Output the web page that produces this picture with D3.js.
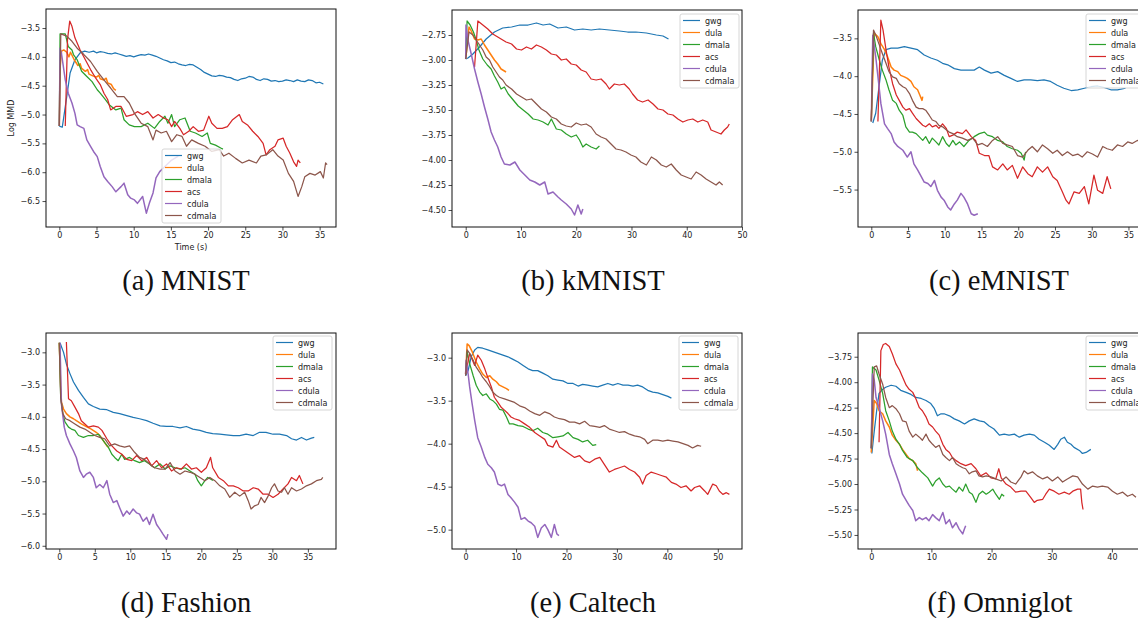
<!DOCTYPE html>
<html>
<head>
<meta charset="utf-8">
<script src="https://cdn.jsdelivr.net/npm/d3@7"></script>
<style>
body { margin: 0; background: #fff; }
</style>
</head>
<body>
<script>
var methods = ['gwg', 'dula', 'dmala', 'acs', 'cdula', 'cdmala'];
var colors = ['#1f77b4', '#ff7f0e', '#2ca02c', '#d62728', '#9467bd', '#8c564b'];
var captions = ['(a) MNIST', '(b) kMNIST', '(c) eMNIST', '(d) Fashion', '(e) Caltech', '(f) Omniglot'];

// tick labels per panel
var ticksA = { x: [0, 5, 10, 15, 20, 25, 30, 35], y: [-3.5, -4.0, -4.5, -5.0, -5.5, -6.0, -6.5] };
var ticksB = { x: [0, 10, 20, 30, 40, 50], y: [-2.75, -3.0, -3.25, -3.5, -3.75, -4.0, -4.25, -4.5] };
var ticksC = { x: [0, 5, 10, 15, 20, 25, 30, 35], y: [-3.5, -4.0, -4.5, -5.0, -5.5] };
var ticksD = { x: [0, 5, 10, 15, 20, 25, 30, 35], y: [-3.0, -3.5, -4.0, -4.5, -5.0, -5.5, -6.0] };
var ticksE = { x: [0, 10, 20, 30, 40, 50], y: [-3.0, -3.5, -4.0, -4.5, -5.0] };
var ticksF = { x: [0, 10, 20, 30, 40], y: [-3.75, -4.0, -4.25, -4.5, -4.75, -5.0, -5.25, -5.5] };

// (a) MNIST
var mnistGwg = [[0,-5.2],[0.4,-5.22],[1.0,-4.69],[1.45,-4.28],[2.1,-4.05],[2.8,-3.93],[3.4,-3.9],[4,-3.92],[4.6,-3.9],[5,-3.93],[5.5,-3.91],[6,-3.92],[6.5,-3.94],[7,-3.95],[7.5,-3.93],[8,-3.95],[8.5,-3.97],[9,-3.99],[9.5,-3.98],[10,-4.0],[10.5,-3.98],[11,-3.96],[11.5,-3.97],[12,-3.95],[12.5,-3.97],[13,-3.99],[13.5,-4.02],[14,-4.05],[14.5,-4.07],[15,-4.1],[15.5,-4.09],[16,-4.12],[16.5,-4.14],[17,-4.15],[17.5,-4.13],[18,-4.14],[18.5,-4.18],[19,-4.22],[19.5,-4.27],[20,-4.3],[20.5,-4.33],[21,-4.34],[21.5,-4.32],[22,-4.33],[22.5,-4.35],[23,-4.36],[23.5,-4.39],[24,-4.41],[24.5,-4.38],[25,-4.37],[25.5,-4.34],[26,-4.35],[26.5,-4.39],[27,-4.41],[27.5,-4.38],[28,-4.39],[28.5,-4.42],[29,-4.41],[29.5,-4.43],[30,-4.42],[30.5,-4.4],[31,-4.41],[31.5,-4.43],[32,-4.4],[32.5,-4.42],[33,-4.43],[33.5,-4.4],[34,-4.41],[34.5,-4.45],[35,-4.44],[35.5,-4.47]];
var mnistDula = [[0,-5.2],[0.1,-4.2],[0.3,-3.9],[0.6,-3.88],[1.0,-3.92],[1.3,-4.0],[1.5,-3.92],[2.0,-4.05],[2.5,-4.15],[2.8,-4.12],[3.0,-4.2],[3.5,-4.25],[3.8,-4.22],[4.0,-4.3],[4.5,-4.33],[5.0,-4.35],[5.3,-4.32],[5.5,-4.38],[6.0,-4.4],[6.3,-4.37],[6.5,-4.45],[7.0,-4.48],[7.3,-4.55],[7.6,-4.58]];
var mnistDmala = [[0,-5.2],[0.1,-3.6],[0.3,-3.6],[0.8,-3.6],[1.2,-3.82],[1.7,-3.88],[1.9,-3.96],[2.4,-4.05],[3.0,-4.25],[3.7,-4.34],[4.4,-4.43],[5.1,-4.57],[5.5,-4.63],[6.2,-4.74],[6.7,-4.83],[7.6,-4.92],[8.3,-4.89],[8.7,-5.09],[9.4,-5.18],[10.1,-5.21],[11,-5.21],[11.9,-5.15],[12.8,-5.24],[13.5,-5.12],[14.2,-5.03],[14.6,-5.15],[15.1,-5.0],[15.5,-5.21],[16.2,-5.09],[16.9,-5.06],[17.6,-5.29],[18.3,-5.32],[19.2,-5.38],[19.9,-5.32],[20.3,-5.5],[21.0,-5.53],[21.7,-5.58],[22.0,-5.6]];
var mnistAcs = [[0.8,-5.2],[1.1,-3.7],[1.4,-3.38],[1.7,-3.47],[2.1,-3.67],[2.8,-3.88],[3.5,-4.05],[4.2,-4.22],[4.9,-4.37],[5.5,-4.48],[6.0,-4.63],[6.5,-4.74],[6.9,-4.92],[7.6,-4.86],[8.3,-4.86],[9.0,-5.03],[9.9,-5.0],[10.5,-4.95],[11.2,-5.0],[11.9,-4.95],[12.6,-5.06],[13.3,-5.0],[14.0,-5.06],[14.6,-5.09],[15.1,-5.21],[15.5,-5.12],[16.2,-5.24],[16.7,-5.35],[17.4,-5.29],[18.0,-5.21],[18.7,-5.29],[19.4,-5.27],[20.1,-5.03],[20.5,-5.15],[21.2,-5.24],[21.9,-5.24],[22.6,-5.21],[23.3,-5.09],[24.2,-5.0],[24.6,-5.12],[25.3,-5.18],[26.0,-5.29],[26.7,-5.38],[27.4,-5.5],[27.8,-5.7],[28.3,-5.61],[29,-5.55],[29.4,-5.44],[30.1,-5.41],[30.5,-5.55],[31,-5.67],[31.5,-5.82],[31.9,-5.9],[32.1,-5.79],[32.4,-5.84]];
var mnistCdula = [[0,-5.2],[0.1,-3.85],[0.3,-3.95],[0.8,-4.4],[1.2,-4.63],[1.7,-4.8],[2.1,-4.98],[2.4,-5.18],[2.8,-5.21],[3.3,-5.24],[3.7,-5.44],[4.2,-5.55],[4.6,-5.64],[5.1,-5.73],[5.5,-5.9],[6.0,-6.08],[6.5,-6.16],[7.1,-6.25],[7.6,-6.34],[8.3,-6.25],[8.7,-6.19],[9.2,-6.39],[9.6,-6.45],[10.1,-6.48],[10.5,-6.54],[11.2,-6.42],[11.7,-6.71],[12.1,-6.54],[12.6,-6.36],[13.0,-6.1],[13.5,-5.99],[14.2,-5.9],[15.0,-5.8],[16.0,-5.72]];
var mnistCdmala = [[0,-5.2],[0.2,-3.6],[1.0,-3.64],[1.7,-3.73],[2.4,-3.85],[3.3,-3.96],[4.2,-4.08],[5.1,-4.25],[6.0,-4.4],[6.9,-4.54],[7.8,-4.69],[8.7,-4.69],[9.4,-4.8],[10.1,-4.98],[11,-5.15],[11.9,-5.21],[12.6,-5.44],[13.0,-5.27],[13.7,-5.32],[14.4,-5.29],[15.1,-5.47],[15.8,-5.35],[16.5,-5.38],[17.1,-5.55],[17.8,-5.44],[18.7,-5.5],[19.6,-5.55],[20.5,-5.64],[21.5,-5.61],[22.1,-5.72],[22.8,-5.67],[23.7,-5.76],[24.6,-5.84],[25.5,-5.79],[26.5,-5.84],[27.1,-5.72],[27.8,-5.7],[28.7,-5.61],[29.4,-5.72],[30.1,-5.79],[30.8,-6.02],[31.5,-6.16],[32.1,-6.42],[32.6,-6.25],[33.0,-6.08],[33.7,-6.02],[34.4,-6.05],[35.1,-5.99],[35.5,-6.1],[35.8,-5.84],[36.0,-5.87]];

// (b) kMNIST
var kmnistGwg = [[0,-2.99],[0.4,-2.98],[1.3,-2.94],[2.5,-2.87],[3.7,-2.79],[5.2,-2.72],[6.7,-2.68],[8.3,-2.67],[9.8,-2.65],[11.3,-2.65],[12.8,-2.63],[14.0,-2.65],[15.2,-2.64],[16.7,-2.68],[18.2,-2.67],[19.7,-2.7],[21.2,-2.69],[22.7,-2.7],[24.2,-2.69],[26.0,-2.7],[27.8,-2.71],[29.3,-2.72],[30.8,-2.72],[32.7,-2.73],[34.5,-2.75],[35.7,-2.76],[36.7,-2.79]];
var kmnistDula = [[0,-2.99],[0.6,-2.67],[1.0,-2.71],[1.6,-2.79],[2.2,-2.8],[2.8,-2.79],[3.4,-2.85],[4.0,-2.9],[4.6,-2.95],[5.2,-3.0],[5.8,-3.04],[6.4,-3.09],[7.0,-3.11],[7.3,-3.12]];
var kmnistDmala = [[0,-2.99],[0.25,-2.61],[0.8,-2.65],[1.4,-2.72],[1.9,-2.8],[2.4,-2.9],[3.1,-2.99],[3.9,-3.05],[4.6,-3.09],[5.2,-3.16],[5.8,-3.22],[6.4,-3.29],[7.0,-3.27],[7.7,-3.34],[8.6,-3.4],[9.5,-3.46],[10.4,-3.5],[11.3,-3.54],[12.2,-3.59],[13.1,-3.6],[14.0,-3.62],[14.9,-3.65],[15.5,-3.59],[16.4,-3.69],[17.3,-3.7],[18.2,-3.74],[19.1,-3.77],[20.0,-3.75],[20.6,-3.8],[21.2,-3.87],[21.8,-3.84],[22.7,-3.87],[23.6,-3.89],[24.2,-3.86]];
var kmnistAcs = [[1.6,-3.07],[2.2,-2.61],[3.1,-2.65],[4.0,-2.69],[4.9,-2.74],[5.8,-2.77],[6.7,-2.8],[7.3,-2.82],[8.3,-2.84],[9.2,-2.89],[10.1,-2.9],[11.0,-2.87],[11.9,-2.89],[12.8,-2.85],[13.7,-2.87],[14.6,-2.9],[15.5,-2.94],[16.4,-2.95],[17.3,-3.0],[18.2,-2.99],[19.1,-3.04],[20.0,-3.05],[20.9,-3.1],[21.8,-3.12],[22.7,-3.19],[23.6,-3.2],[24.5,-3.19],[25.4,-3.24],[26.0,-3.29],[26.9,-3.24],[27.8,-3.25],[28.7,-3.24],[29.6,-3.29],[30.2,-3.34],[31.1,-3.4],[32.0,-3.42],[33.0,-3.4],[33.9,-3.44],[34.8,-3.49],[35.7,-3.5],[36.6,-3.54],[37.5,-3.55],[38.4,-3.59],[39.3,-3.62],[40.2,-3.6],[41.1,-3.59],[42.0,-3.62],[42.9,-3.6],[43.8,-3.62],[44.4,-3.7],[45.3,-3.72],[46.2,-3.74],[46.8,-3.7],[47.4,-3.67],[47.7,-3.64]];
var kmnistCdula = [[0,-2.99],[0.05,-2.65],[0.4,-2.8],[1.0,-2.94],[1.6,-3.09],[2.2,-3.22],[2.8,-3.34],[3.4,-3.47],[4.0,-3.59],[4.6,-3.72],[5.2,-3.8],[5.8,-3.87],[6.4,-3.97],[7.0,-4.04],[8.0,-4.05],[8.9,-4.02],[9.8,-4.1],[10.7,-4.15],[11.6,-4.2],[12.5,-4.22],[13.4,-4.25],[14.3,-4.22],[14.9,-4.34],[15.8,-4.32],[16.7,-4.37],[17.3,-4.4],[18.2,-4.44],[19.1,-4.49],[19.7,-4.55],[20.3,-4.45],[20.9,-4.54],[21.2,-4.49]];
var kmnistCdmala = [[0,-2.99],[0.6,-2.72],[1.3,-2.75],[1.9,-2.8],[2.5,-2.85],[3.1,-2.9],[3.7,-2.97],[4.3,-3.0],[4.9,-3.07],[5.5,-3.12],[6.1,-3.17],[6.7,-3.2],[7.3,-3.25],[8.3,-3.29],[9.2,-3.34],[10.1,-3.37],[11.0,-3.4],[11.9,-3.39],[12.8,-3.44],[13.7,-3.49],[14.6,-3.52],[15.5,-3.57],[16.4,-3.59],[17.3,-3.64],[18.2,-3.66],[19.1,-3.67],[20.0,-3.63],[20.9,-3.65],[21.8,-3.64],[22.7,-3.67],[23.6,-3.74],[24.5,-3.77],[25.4,-3.79],[26.3,-3.84],[27.2,-3.89],[28.1,-3.9],[29.0,-3.92],[29.9,-3.95],[30.8,-3.97],[31.7,-4.02],[32.7,-4.05],[33.6,-3.97],[34.5,-4.0],[35.4,-4.05],[36.3,-4.07],[37.2,-4.04],[38.1,-4.1],[39.0,-4.15],[39.9,-4.17],[40.8,-4.19],[41.7,-4.12],[42.6,-4.15],[43.5,-4.19],[44.4,-4.22],[45.3,-4.25],[45.9,-4.22],[46.5,-4.25]];

// (c) eMNIST
var emnistGwg = [[0.2,-4.62],[0.6,-4.49],[1.1,-4.1],[1.5,-3.79],[2.0,-3.65],[2.7,-3.63],[3.6,-3.63],[4.5,-3.61],[5.4,-3.63],[6.3,-3.65],[7.2,-3.72],[8.1,-3.76],[9.0,-3.79],[9.7,-3.83],[10.4,-3.85],[11.3,-3.9],[12.2,-3.92],[13.1,-3.92],[14.0,-3.92],[14.7,-3.88],[15.4,-3.92],[16.3,-3.96],[17.2,-3.94],[18.1,-3.99],[19.0,-4.03],[19.9,-4.07],[20.8,-4.05],[21.7,-4.05],[22.6,-4.06],[23.5,-4.05],[24.4,-4.07],[25.3,-4.12],[26.2,-4.16],[27.2,-4.19],[28.1,-4.18],[29.0,-4.16],[29.9,-4.14],[30.8,-4.13],[31.7,-4.15],[32.6,-4.18],[33.5,-4.18],[34.6,-4.16]];
var emnistDula = [[0,-4.6],[0.4,-3.43],[0.9,-3.48],[1.3,-3.57],[1.8,-3.65],[2.2,-3.74],[2.7,-3.88],[3.1,-3.92],[3.6,-3.94],[4.0,-3.99],[4.5,-4.01],[4.9,-4.03],[5.4,-4.07],[5.8,-4.14],[6.3,-4.18],[6.6,-4.25],[6.9,-4.32],[7.0,-4.27]];
var emnistDmala = [[0,-4.6],[0.3,-3.43],[0.6,-3.61],[1.1,-3.79],[1.5,-3.92],[2.0,-4.05],[2.4,-4.18],[2.9,-4.32],[3.4,-4.36],[3.8,-4.45],[4.3,-4.52],[4.7,-4.67],[5.2,-4.74],[5.6,-4.74],[6.1,-4.76],[6.5,-4.8],[7.0,-4.85],[7.4,-4.8],[7.9,-4.89],[8.3,-4.82],[8.8,-4.87],[9.2,-4.91],[9.7,-4.8],[10.2,-4.89],[10.6,-4.93],[11.1,-4.85],[11.5,-4.91],[12.0,-4.87],[12.6,-4.93],[13.3,-4.85],[14.0,-4.8],[14.7,-4.76],[15.4,-4.74],[15.8,-4.78],[16.5,-4.8],[17.2,-4.85],[17.9,-4.87],[18.5,-4.93],[19.2,-4.96],[19.9,-4.98],[20.4,-5.02],[20.8,-5.11],[21.0,-5.0]];
var emnistAcs = [[0.9,-4.6],[1.3,-3.26],[1.6,-3.39],[2.0,-3.65],[2.4,-3.88],[2.9,-4.1],[3.4,-4.25],[3.8,-4.32],[4.3,-4.41],[4.7,-4.45],[5.2,-4.43],[5.6,-4.49],[6.1,-4.56],[6.5,-4.6],[7.0,-4.65],[7.4,-4.67],[7.9,-4.63],[8.3,-4.67],[8.8,-4.65],[9.2,-4.69],[9.7,-4.63],[10.2,-4.69],[10.6,-4.8],[11.1,-4.78],[11.7,-4.74],[12.4,-4.76],[12.9,-4.71],[13.6,-4.8],[14.2,-4.85],[14.7,-5.02],[15.4,-5.05],[16.0,-5.05],[16.5,-5.2],[17.2,-5.24],[17.9,-5.16],[18.5,-5.24],[19.2,-5.18],[19.9,-5.35],[20.6,-5.2],[21.3,-5.29],[21.9,-5.33],[22.6,-5.2],[23.3,-5.27],[24.0,-5.2],[24.7,-5.33],[25.3,-5.38],[26.0,-5.53],[26.5,-5.64],[26.9,-5.69],[27.6,-5.53],[28.3,-5.55],[29.0,-5.46],[29.6,-5.69],[30.3,-5.31],[30.8,-5.51],[31.5,-5.55],[32.1,-5.33],[32.6,-5.49]];
var emnistCdula = [[0,-4.6],[0.2,-3.46],[0.6,-3.74],[1.1,-4.18],[1.3,-4.36],[1.8,-4.63],[2.2,-4.69],[2.7,-4.76],[3.1,-4.87],[3.6,-4.93],[4.3,-4.98],[4.9,-5.07],[5.4,-5.0],[5.8,-5.16],[6.3,-5.24],[6.8,-5.33],[7.2,-5.4],[7.7,-5.42],[8.1,-5.46],[8.6,-5.38],[9.0,-5.51],[9.5,-5.6],[9.9,-5.64],[10.4,-5.73],[10.8,-5.77],[11.3,-5.69],[11.7,-5.64],[12.2,-5.55],[12.6,-5.6],[13.1,-5.69],[13.6,-5.82],[14.0,-5.84],[14.5,-5.82]];
var emnistCdmala = [[0,-4.59],[0.3,-3.39],[0.7,-3.48],[1.1,-3.59],[1.5,-3.7],[2.0,-3.83],[2.4,-3.94],[2.9,-4.01],[3.4,-4.03],[3.8,-4.1],[4.3,-4.14],[4.7,-4.16],[5.2,-4.23],[5.6,-4.32],[6.1,-4.41],[6.5,-4.43],[7.0,-4.43],[7.4,-4.45],[7.9,-4.52],[8.3,-4.58],[8.8,-4.6],[9.2,-4.65],[9.7,-4.67],[10.2,-4.71],[10.6,-4.74],[11.1,-4.76],[11.7,-4.8],[12.4,-4.82],[13.1,-4.85],[13.8,-4.82],[14.5,-4.91],[15.1,-4.89],[15.8,-4.93],[16.5,-4.85],[17.2,-4.8],[17.9,-4.89],[18.5,-4.91],[19.2,-4.93],[19.9,-5.05],[20.6,-5.07],[21.3,-4.98],[21.9,-4.93],[22.6,-5.0],[23.3,-4.91],[24.0,-4.96],[24.7,-5.02],[25.3,-4.98],[26.0,-5.05],[26.7,-5.0],[27.4,-5.05],[28.1,-5.03],[28.7,-5.07],[29.4,-5.0],[30.1,-5.03],[30.8,-5.07],[31.5,-4.93],[32.1,-4.96],[32.8,-4.98],[33.5,-4.91],[34.2,-4.93],[34.9,-4.87],[35.5,-4.89],[36.2,-4.85],[36.6,-4.86]];

// (d) Fashion
var fashionGwg = [[0.1,-2.85],[0.6,-3.0],[1.0,-3.18],[1.5,-3.33],[2.0,-3.46],[2.7,-3.59],[3.4,-3.7],[4.1,-3.8],[4.8,-3.84],[5.7,-3.88],[6.7,-3.89],[7.6,-3.93],[8.5,-3.95],[9.5,-3.98],[10.4,-4.01],[11.3,-4.03],[12.3,-4.06],[13.2,-4.1],[14.2,-4.14],[15.1,-4.15],[16.0,-4.15],[17.0,-4.17],[17.9,-4.15],[18.8,-4.19],[19.8,-4.21],[20.7,-4.24],[21.6,-4.26],[22.6,-4.27],[23.5,-4.28],[24.5,-4.29],[25.4,-4.29],[26.3,-4.27],[27.3,-4.29],[28.2,-4.24],[29.1,-4.24],[30.1,-4.27],[31.0,-4.27],[32.0,-4.29],[32.7,-4.34],[33.4,-4.36],[34.1,-4.32],[34.8,-4.36],[35.5,-4.33],[35.9,-4.32]];
var fashionDula = [[0,-2.85],[0.2,-3.54],[0.3,-3.77],[0.6,-3.88],[1.0,-3.95],[1.5,-4.0],[2.0,-4.03],[2.4,-4.06],[3.1,-4.11],[3.8,-4.15],[4.5,-4.19],[5.2,-4.24],[5.7,-4.29],[6.2,-4.37],[6.7,-4.45],[6.9,-4.47]];
var fashionDmala = [[0,-2.85],[0.2,-3.7],[0.5,-3.95],[0.8,-4.08],[1.3,-4.16],[1.7,-4.19],[2.2,-4.21],[2.7,-4.29],[3.4,-4.32],[4.1,-4.29],[4.8,-4.29],[5.5,-4.27],[6.0,-4.34],[6.4,-4.4],[6.9,-4.47],[7.4,-4.58],[7.8,-4.63],[8.3,-4.68],[8.8,-4.58],[9.2,-4.66],[9.9,-4.63],[10.6,-4.68],[11.3,-4.71],[12.0,-4.68],[12.7,-4.73],[13.4,-4.79],[14.2,-4.73],[14.9,-4.81],[15.6,-4.76],[16.3,-4.79],[17.0,-4.81],[17.7,-4.79],[18.4,-4.84],[19.1,-4.89],[19.5,-4.99],[20.0,-5.07],[20.5,-4.99],[20.9,-4.94],[21.4,-4.97],[21.6,-4.99]];
var fashionAcs = [[1.0,-2.84],[1.3,-3.72],[1.7,-3.75],[2.2,-3.85],[2.7,-3.95],[3.1,-4.06],[3.6,-4.11],[4.1,-4.16],[4.8,-4.14],[5.5,-4.16],[6.0,-4.21],[6.7,-4.34],[7.4,-4.45],[8.1,-4.53],[8.8,-4.58],[9.5,-4.66],[10.2,-4.68],[10.9,-4.6],[11.6,-4.68],[12.3,-4.63],[13.0,-4.76],[13.7,-4.68],[14.4,-4.79],[15.1,-4.73],[15.8,-4.84],[16.5,-4.79],[17.2,-4.81],[17.9,-4.73],[18.6,-4.81],[19.3,-4.79],[20.0,-4.86],[20.7,-4.79],[21.3,-4.63],[21.6,-4.79],[22.4,-4.94],[23.1,-4.99],[23.8,-5.07],[24.5,-5.07],[25.2,-5.1],[25.9,-5.15],[26.6,-5.15],[27.3,-5.1],[28.0,-5.12],[28.7,-5.2],[29.4,-5.2],[30.1,-5.25],[30.8,-5.2],[31.5,-5.12],[32.2,-5.04],[32.7,-4.94],[33.4,-4.99],[33.8,-4.91],[34.3,-5.04]];
var fashionCdula = [[0.1,-2.85],[0.3,-3.8],[0.7,-4.16],[1.0,-4.29],[1.5,-4.42],[2.0,-4.53],[2.4,-4.63],[2.9,-4.84],[3.4,-4.94],[3.8,-4.89],[4.3,-4.86],[4.8,-4.94],[5.2,-5.1],[5.7,-5.05],[6.2,-5.1],[6.7,-4.99],[7.1,-5.2],[7.6,-5.33],[8.1,-5.3],[8.5,-5.41],[9.0,-5.54],[9.5,-5.46],[9.9,-5.51],[10.4,-5.43],[10.9,-5.49],[11.3,-5.51],[11.8,-5.62],[12.3,-5.56],[12.7,-5.67],[13.2,-5.51],[13.7,-5.67],[14.2,-5.75],[14.6,-5.82],[15.1,-5.9],[15.3,-5.82]];
var fashionCdmala = [[0,-2.85],[0.2,-3.7],[0.5,-3.95],[0.9,-4.03],[1.5,-4.06],[2.2,-4.11],[2.9,-4.16],[3.6,-4.19],[4.3,-4.24],[5.0,-4.29],[5.7,-4.32],[6.4,-4.34],[7.1,-4.45],[7.8,-4.42],[8.5,-4.45],[9.2,-4.47],[9.9,-4.45],[10.6,-4.55],[11.3,-4.63],[12.0,-4.66],[12.7,-4.73],[13.4,-4.79],[14.2,-4.81],[14.9,-4.81],[15.6,-4.71],[16.3,-4.84],[17.0,-4.89],[17.7,-4.84],[18.4,-4.86],[19.1,-4.89],[19.8,-4.94],[20.5,-4.99],[21.2,-4.94],[21.9,-4.99],[22.6,-5.07],[23.3,-5.12],[24.0,-5.25],[24.7,-5.17],[25.4,-5.23],[26.1,-5.17],[26.6,-5.3],[27.0,-5.43],[27.5,-5.38],[28.0,-5.36],[28.4,-5.25],[28.9,-5.33],[29.4,-5.23],[29.9,-5.1],[30.3,-5.04],[30.8,-5.15],[31.3,-5.17],[31.7,-5.1],[32.2,-5.2],[32.7,-5.1],[33.4,-5.15],[34.1,-5.12],[34.8,-5.07],[35.5,-5.04],[36.2,-4.99],[36.9,-4.97],[37.1,-4.94]];

// (e) Caltech
var caltechGwg = [[0,-3.21],[0.5,-3.15],[1.1,-2.99],[1.8,-2.91],[2.4,-2.88],[3.4,-2.89],[4.4,-2.91],[5.4,-2.93],[6.4,-2.95],[7.4,-2.97],[8.4,-2.99],[9.4,-3.02],[10.4,-3.05],[11.4,-3.09],[12.4,-3.13],[13.3,-3.15],[14.3,-3.15],[15.3,-3.18],[16.3,-3.21],[17.3,-3.25],[18.3,-3.26],[19.3,-3.27],[20.3,-3.3],[21.3,-3.3],[22.3,-3.33],[23.2,-3.31],[24.2,-3.32],[25.2,-3.33],[26.2,-3.34],[27.2,-3.32],[28.2,-3.3],[29.2,-3.32],[30.2,-3.3],[31.2,-3.32],[32.2,-3.32],[33.2,-3.33],[34.1,-3.32],[35.1,-3.34],[36.1,-3.38],[37.1,-3.4],[38.1,-3.41],[39.1,-3.43],[40.1,-3.45],[40.8,-3.47]];
var caltechDula = [[0,-3.19],[0.3,-2.84],[0.7,-2.86],[1.3,-2.93],[2.1,-3.05],[2.8,-3.13],[3.4,-3.19],[4.1,-3.23],[4.8,-3.21],[5.4,-3.25],[6.1,-3.28],[6.7,-3.32],[7.4,-3.34],[8.1,-3.36],[8.6,-3.38]];
var caltechDmala = [[0,-3.19],[0.3,-2.93],[0.8,-3.07],[1.5,-3.21],[2.1,-3.32],[2.8,-3.4],[3.4,-3.44],[4.1,-3.42],[4.8,-3.48],[5.4,-3.5],[6.1,-3.54],[6.7,-3.6],[7.4,-3.61],[8.1,-3.69],[8.7,-3.77],[9.4,-3.77],[10.4,-3.79],[11.4,-3.8],[12.4,-3.83],[13.3,-3.85],[14.3,-3.82],[15.3,-3.87],[16.3,-3.89],[17.3,-3.93],[18.3,-3.92],[19.3,-3.91],[20.3,-3.87],[21.3,-3.93],[22.3,-3.95],[23.2,-3.98],[24.2,-3.96],[25.2,-4.02],[25.9,-4.01]];
var caltechAcs = [[0,-3.19],[0.8,-2.95],[1.8,-3.09],[2.4,-2.97],[3.1,-3.03],[3.8,-3.13],[4.4,-3.23],[5.1,-3.34],[5.7,-3.46],[6.4,-3.52],[7.1,-3.58],[7.7,-3.61],[8.4,-3.65],[9.0,-3.69],[9.7,-3.71],[10.7,-3.73],[11.7,-3.77],[12.7,-3.81],[13.7,-3.87],[14.7,-3.91],[15.7,-3.95],[16.3,-4.02],[17.3,-4.04],[18.0,-3.96],[18.6,-4.04],[19.6,-4.08],[20.6,-4.12],[21.6,-4.16],[22.6,-4.14],[23.6,-4.2],[24.6,-4.22],[25.6,-4.18],[26.6,-4.16],[27.5,-4.24],[28.5,-4.33],[29.5,-4.3],[30.5,-4.28],[31.5,-4.26],[32.5,-4.3],[33.5,-4.33],[34.5,-4.39],[35.1,-4.47],[35.8,-4.37],[36.8,-4.33],[37.8,-4.35],[38.8,-4.37],[39.8,-4.39],[40.8,-4.45],[41.7,-4.47],[42.7,-4.51],[43.7,-4.49],[44.7,-4.55],[45.4,-4.51],[46.4,-4.49],[47.4,-4.55],[48.0,-4.59],[49.0,-4.47],[49.7,-4.49],[50.3,-4.55],[51.0,-4.59],[51.7,-4.57],[52.3,-4.59]];
var caltechCdula = [[0,-3.19],[0.1,-3.03],[0.5,-3.19],[0.8,-3.34],[1.3,-3.54],[1.8,-3.73],[2.4,-3.93],[3.1,-4.04],[3.8,-4.16],[4.4,-4.24],[5.1,-4.28],[5.7,-4.33],[6.4,-4.47],[7.1,-4.49],[7.7,-4.47],[8.4,-4.59],[9.0,-4.63],[9.7,-4.68],[10.4,-4.74],[11.0,-4.88],[11.7,-4.86],[12.4,-4.9],[13.0,-4.92],[13.7,-4.96],[14.3,-5.09],[15.0,-4.98],[15.7,-4.94],[16.3,-5.0],[17.0,-5.09],[17.6,-4.94],[18.1,-5.05],[18.5,-5.07]];
var caltechCdmala = [[0,-3.21],[0.3,-2.91],[0.8,-2.95],[1.5,-3.03],[2.1,-3.11],[2.8,-3.17],[3.4,-3.23],[4.1,-3.28],[4.8,-3.34],[5.4,-3.4],[6.1,-3.44],[6.7,-3.46],[7.7,-3.48],[8.7,-3.5],[9.7,-3.52],[10.7,-3.56],[11.7,-3.58],[12.7,-3.62],[13.7,-3.65],[14.7,-3.67],[15.7,-3.63],[16.6,-3.65],[17.6,-3.69],[18.6,-3.71],[19.6,-3.72],[20.6,-3.75],[21.6,-3.75],[22.6,-3.77],[23.6,-3.74],[24.6,-3.79],[25.6,-3.8],[26.6,-3.81],[27.5,-3.79],[28.5,-3.83],[29.5,-3.85],[30.5,-3.87],[31.5,-3.86],[32.5,-3.89],[33.5,-3.91],[34.5,-3.92],[35.5,-3.95],[36.1,-4.0],[37.1,-3.96],[38.1,-3.96],[39.1,-3.97],[40.1,-3.96],[41.1,-3.97],[42.1,-3.98],[43.1,-4.0],[44.1,-4.02],[45.0,-4.05],[46.0,-4.02],[46.7,-4.03]];

// (f) Omniglot
var omniGwg = [[0.1,-4.7],[0.5,-4.48],[0.9,-4.28],[1.3,-4.11],[1.9,-4.07],[2.4,-4.05],[3.3,-4.03],[4.1,-4.04],[4.9,-4.08],[5.8,-4.1],[6.6,-4.12],[7.4,-4.15],[8.3,-4.16],[9.1,-4.18],[9.9,-4.21],[10.5,-4.26],[11.0,-4.33],[11.6,-4.31],[12.1,-4.31],[13.0,-4.33],[13.8,-4.36],[14.6,-4.38],[15.5,-4.41],[16.3,-4.38],[17.1,-4.36],[18.0,-4.38],[18.8,-4.39],[19.6,-4.43],[20.4,-4.46],[21.3,-4.52],[22.1,-4.51],[22.9,-4.52],[23.8,-4.51],[24.6,-4.54],[25.4,-4.52],[26.3,-4.51],[27.1,-4.52],[27.9,-4.56],[28.8,-4.59],[29.6,-4.62],[30.4,-4.66],[31.0,-4.61],[31.5,-4.56],[32.1,-4.54],[32.6,-4.59],[33.2,-4.61],[33.7,-4.64],[34.6,-4.67],[35.1,-4.7],[35.7,-4.69],[36.5,-4.66]];
var omniDula = [[0,-4.69],[0.5,-4.18],[0.9,-4.21],[1.3,-4.28],[1.9,-4.31],[2.4,-4.38],[3.0,-4.44],[3.5,-4.52],[4.1,-4.57],[4.7,-4.61],[5.2,-4.66],[5.8,-4.71],[6.3,-4.75],[6.9,-4.77],[7.4,-4.8],[7.7,-4.87]];
var omniDmala = [[0,-4.65],[0.2,-3.85],[0.8,-3.88],[1.3,-3.98],[1.9,-4.11],[2.4,-4.28],[3.0,-4.38],[3.5,-4.48],[4.1,-4.56],[4.7,-4.61],[5.2,-4.67],[6.0,-4.74],[6.9,-4.77],[7.7,-4.84],[8.5,-4.89],[9.4,-4.94],[10.2,-5.02],[10.7,-4.97],[11.3,-4.94],[11.9,-5.0],[12.4,-5.03],[13.0,-5.02],[13.5,-5.05],[14.1,-5.08],[14.6,-5.03],[15.2,-5.07],[15.7,-5.0],[16.3,-5.08],[16.8,-5.1],[17.4,-5.18],[17.9,-5.1],[18.5,-5.07],[19.1,-5.1],[19.6,-5.08],[20.2,-5.05],[20.7,-5.1],[21.3,-5.15],[21.7,-5.1],[22.1,-5.12]];
var omniAcs = [[1.3,-4.59],[1.6,-3.69],[2.0,-3.63],[2.4,-3.62],[3.0,-3.65],[3.5,-3.72],[4.1,-3.82],[4.7,-3.88],[5.2,-3.95],[5.8,-4.03],[6.3,-4.07],[6.9,-4.1],[7.4,-4.16],[8.0,-4.25],[8.5,-4.28],[9.1,-4.34],[9.6,-4.41],[10.2,-4.44],[10.7,-4.48],[11.3,-4.52],[11.9,-4.61],[12.4,-4.66],[13.0,-4.69],[13.5,-4.74],[14.1,-4.77],[14.9,-4.8],[15.7,-4.82],[16.6,-4.8],[17.4,-4.85],[18.2,-4.92],[19.1,-4.89],[19.9,-4.94],[20.7,-4.95],[21.2,-4.85],[21.6,-4.94],[22.4,-5.0],[23.2,-5.03],[24.0,-5.08],[24.9,-5.07],[25.7,-5.07],[26.5,-5.13],[27.1,-5.18],[27.6,-5.16],[28.5,-5.15],[29.0,-5.1],[29.6,-5.05],[30.4,-5.07],[31.2,-5.1],[32.1,-5.08],[32.9,-5.1],[33.5,-5.07],[34.3,-5.05],[34.8,-5.05],[35.0,-5.18],[35.2,-5.25]];
var omniCdula = [[0,-4.65],[0.2,-3.92],[0.5,-3.98],[0.8,-4.15],[1.3,-4.25],[1.9,-4.38],[2.4,-4.51],[3.0,-4.71],[3.5,-4.8],[4.1,-4.9],[4.7,-5.0],[5.2,-5.1],[5.8,-5.16],[6.3,-5.21],[6.9,-5.26],[7.4,-5.36],[8.0,-5.33],[8.5,-5.35],[9.1,-5.33],[9.6,-5.36],[10.2,-5.3],[10.7,-5.33],[11.3,-5.36],[11.9,-5.28],[12.4,-5.39],[13.0,-5.35],[13.5,-5.43],[14.1,-5.38],[14.6,-5.44],[15.2,-5.49],[15.5,-5.44],[15.7,-5.41]];
var omniCdmala = [[0,-4.65],[0.5,-3.85],[0.9,-3.84],[1.3,-3.92],[1.9,-4.02],[2.4,-4.15],[3.0,-4.25],[3.5,-4.23],[4.1,-4.26],[4.7,-4.31],[5.2,-4.38],[5.8,-4.39],[6.3,-4.48],[6.9,-4.54],[7.4,-4.51],[8.0,-4.54],[8.5,-4.57],[9.1,-4.51],[9.6,-4.57],[10.2,-4.61],[10.7,-4.64],[11.3,-4.62],[11.9,-4.71],[12.4,-4.74],[13.0,-4.77],[13.5,-4.74],[14.1,-4.8],[14.6,-4.82],[15.2,-4.84],[15.7,-4.85],[16.3,-4.9],[16.8,-4.88],[17.4,-4.87],[17.9,-4.92],[18.5,-4.93],[19.1,-4.92],[19.9,-4.93],[20.7,-4.95],[21.6,-4.97],[22.4,-4.93],[23.2,-4.98],[24.0,-5.0],[24.9,-4.93],[25.4,-4.87],[26.0,-4.9],[26.8,-4.88],[27.6,-4.92],[28.5,-4.95],[29.3,-4.93],[30.1,-4.97],[31.0,-4.93],[31.8,-4.98],[32.6,-4.95],[33.5,-4.92],[34.3,-4.93],[35.1,-5.0],[36.0,-5.05],[36.8,-5.02],[37.6,-5.03],[38.4,-5.02],[39.3,-5.03],[40.1,-5.07],[40.9,-5.1],[41.8,-5.08],[42.6,-5.12],[43.4,-5.1],[44.0,-5.13]];

var W = 1138, H = 618;

var svg = d3.select('body').append('svg')
  .attr('width', W)
  .attr('height', H)
  .style('font-family', 'DejaVu Sans');

// layout for each panel: frame box, axis extents, legend corner
var panels = [
  { series: [mnistGwg, mnistDula, mnistDmala, mnistAcs, mnistCdula, mnistCdmala], ticks: ticksA, fmt: '.1f',
    box: [46, 9, 290, 218], xd: [-1.79, 37.2], yd: [-6.95, -3.17], legend: [162, 149], labels: true },
  { series: [kmnistGwg, kmnistDula, kmnistDmala, kmnistAcs, kmnistCdula, kmnistCdmala], ticks: ticksB, fmt: '.2f',
    box: [452, 10, 290, 217], xd: [-2.48, 50.0], yd: [-4.67, -2.5], legend: [680, 14] },
  { series: [emnistGwg, emnistDula, emnistDmala, emnistAcs, emnistCdula, emnistCdmala], ticks: ticksC, fmt: '.1f',
    box: [858, 10, 290, 217], xd: [-1.81, 37.66], yd: [-5.995, -3.125], legend: [1086, 14] },
  { series: [fashionGwg, fashionDula, fashionDmala, fashionAcs, fashionCdula, fashionCdmala], ticks: ticksD, fmt: '.1f',
    box: [46, 333, 290, 216], xd: [-1.87, 38.96], yd: [-6.05, -2.7], legend: [273, 336] },
  { series: [caltechGwg, caltechDula, caltechDmala, caltechAcs, caltechCdula, caltechCdmala], ticks: ticksE, fmt: '.1f',
    box: [452, 333, 290, 216], xd: [-2.7, 54.8], yd: [-5.225, -2.713], legend: [679, 336] },
  { series: [omniGwg, omniDula, omniDmala, omniAcs, omniCdula, omniCdmala], ticks: ticksF, fmt: '.2f',
    box: [858, 333, 290, 216], xd: [-2.2, 46.0], yd: [-5.638, -3.517], legend: [1086, 336] }
];

var captionPos = [[186, 290], [593, 290], [999, 290], [186, 612], [593, 612], [1000, 612]];

function drawPanel(p, i) {
  var bx = p.box[0], by = p.box[1], bw = p.box[2], bh = p.box[3];
  var x = d3.scaleLinear().domain(p.xd).range([bx, bx + bw]);
  var y = d3.scaleLinear().domain(p.yd).range([by + bh, by]);

  var g = svg.append('g');

  g.append('clipPath').attr('id', 'clip' + i)
    .append('rect').attr('x', bx).attr('y', by).attr('width', bw).attr('height', bh);

  var line = d3.line()
    .x(function (d) { return x(d[0]); })
    .y(function (d) { return y(d[1]); });

  g.append('g').attr('clip-path', 'url(#clip' + i + ')')
    .selectAll('path')
    .data(p.series)
    .enter().append('path')
    .attr('d', line)
    .attr('fill', 'none')
    .attr('stroke', function (d, k) { return colors[k]; })
    .attr('stroke-width', function (d, k) { return k === 1 || k === 4 ? 1.5 : 1.25; })
    .attr('stroke-linejoin', 'round');

  var xAxis = g.append('g')
    .attr('transform', 'translate(0,' + (by + bh) + ')')
    .call(d3.axisBottom(x).tickValues(p.ticks.x).tickSize(3.5).tickPadding(2).tickFormat(d3.format('d')));
  var yAxis = g.append('g')
    .attr('transform', 'translate(' + bx + ',0)')
    .call(d3.axisLeft(y).tickValues(p.ticks.y).tickSize(3.5).tickPadding(2.5).tickFormat(d3.format(p.fmt)));

  [xAxis, yAxis].forEach(function (a) {
    a.select('.domain').remove();
    a.selectAll('text').attr('font-size', 8).attr('font-family', 'DejaVu Sans').attr('fill', '#222');
    a.selectAll('line').attr('stroke', '#222').attr('stroke-width', 0.8);
  });

  g.append('rect')
    .attr('x', bx).attr('y', by).attr('width', bw).attr('height', bh)
    .attr('fill', 'none').attr('stroke', '#111').attr('stroke-width', 1);

  if (p.labels) {
    g.append('text').text('Time (s)')
      .attr('x', bx + bw / 2).attr('y', by + bh + 23)
      .attr('text-anchor', 'middle').attr('font-size', 8).attr('fill', '#222');
    g.append('text').text('Log MMD')
      .attr('transform', 'translate(14,' + (by + bh / 2) + ') rotate(-90)')
      .attr('text-anchor', 'middle').attr('font-size', 8).attr('fill', '#222');
  }

  // legend (cut by the page edge in the right column, as in the source figure)
  var lx = p.legend[0], ly = p.legend[1];
  var leg = g.append('g');
  leg.append('rect')
    .attr('x', lx).attr('y', ly).attr('width', 59).attr('height', 74)
    .attr('rx', 2).attr('fill', '#fff').attr('fill-opacity', 0.8)
    .attr('stroke', '#ccc').attr('stroke-width', 0.8);
  methods.forEach(function (m, k) {
    var cy = ly + 6.5 + k * 12;
    leg.append('line')
      .attr('x1', lx + 3).attr('x2', lx + 20).attr('y1', cy).attr('y2', cy)
      .attr('stroke', colors[k]).attr('stroke-width', 1.2);
    leg.append('text').text(m)
      .attr('x', lx + 25).attr('y', cy + 3)
      .attr('font-size', 8).attr('fill', '#222');
  });

  svg.append('text').text(captions[i])
    .attr('x', captionPos[i][0]).attr('y', captionPos[i][1])
    .attr('text-anchor', 'middle')
    .attr('font-family', 'Liberation Serif')
    .attr('font-size', 28.5)
    .attr('fill', '#111');
}

panels.forEach(drawPanel);
</script>
</body>
</html>
